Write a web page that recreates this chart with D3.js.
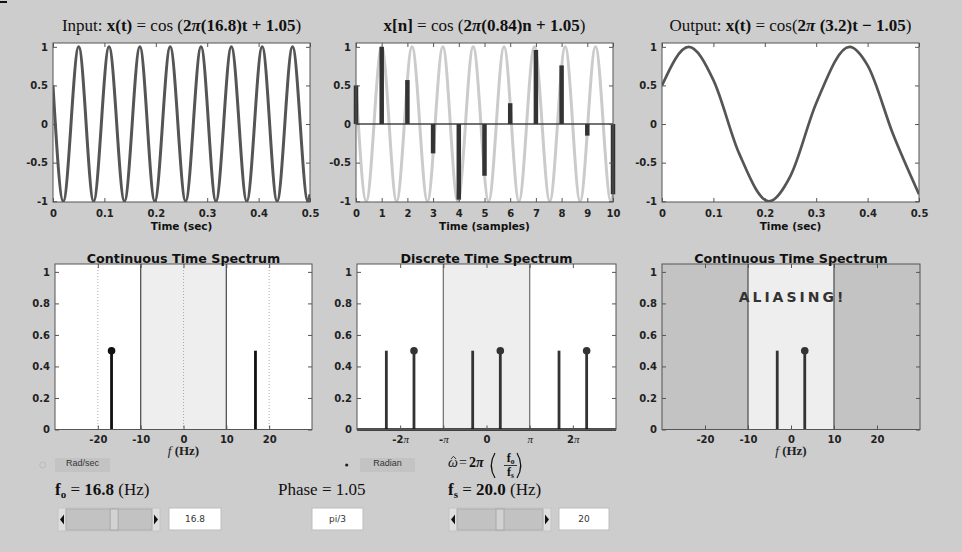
<!DOCTYPE html>
<html>
<head>
<meta charset="utf-8">
<script src="https://cdn.jsdelivr.net/npm/d3@7"></script>
<style>
  body { margin:0; background:#cdcdcd; overflow:hidden; }
  .tk text { font-family:"DejaVu Sans", sans-serif; font-weight:bold; font-size:10px; fill:#222; }
  .tk line { stroke:#555; }
</style>
</head>
<body>
<script>
// values shown in the controls
const fo = 16.8, fs = 20.0, phase = 1.05

// input signal: start, peaks/troughs, end
const inT = [0, 0.020, 0.050, 0.079, 0.109, 0.139, 0.169, 0.198, 0.228, 0.258, 0.288, 0.317, 0.347, 0.377, 0.407, 0.436, 0.466, 0.496, 0.5]
const inX = [0.50, -1, 1, -1, 1, -1, 1, -1, 1, -1, 1, -1, 1, -1, 1, -1, 1, -1, -0.91]

// samples x[n]
const sampN = [0, 1, 2, 3, 4, 5, 6, 7, 8, 9, 10]
const sampX = [0.50, 1.00, 0.57, -0.38, -0.98, -0.67, 0.27, 0.96, 0.76, -0.15, -0.91]

// output (aliased) signal
const outT = [0, 0.052, 0.1, 0.15, 0.208, 0.25, 0.3, 0.365, 0.4, 0.45, 0.5]
const outX = [0.50, 1, 0.57, -0.38, -1, -0.67, 0.27, 1, 0.76, -0.14, -0.91]

// spectra
const ctFreq = [-16.8, 16.8], ctAmp = [0.5, 0.5], ctDot = [true, false]
const dtFreq = [-2.32, -1.68, -0.32, 0.32, 1.68, 2.32]   // units of pi
const dtAmp = [0.5, 0.5, 0.5, 0.5, 0.5, 0.5], dtDot = [false, true, false, true, false, true]
const alFreq = [-3.2, 3.2], alAmp = [0.5, 0.5], alDot = [false, true]

// ticks
const timeTicks = [0, 0.1, 0.2, 0.3, 0.4, 0.5]
const sampTicks = [0, 1, 2, 3, 4, 5, 6, 7, 8, 9, 10]
const ampTicks = [-1, -0.5, 0, 0.5, 1]
const specTicks = [0, 0.2, 0.4, 0.6, 0.8, 1]
const hzTicks = [-20, -10, 0, 10, 20]
const piTicks = [-2, -1, 0, 1, 2]
const piLabels = ["-2", "-", "0", "", "2"]

// slider positions (fraction of track)
const sliderPos = [0.56, 0.50]

const svg = d3.select("body").append("svg").attr("width", 962).attr("height", 552)
svg.append("rect").attr("width", 962).attr("height", 552).attr("fill", "#cdcdcd")
svg.append("line").attr("x1", 0).attr("x2", 7).attr("y1", 2).attr("y2", 2).attr("stroke", "#111").attr("stroke-width", 2)

let clipN = 0
function panel(x0, x1, y0, y1, xd, yd) {
  const x = d3.scaleLinear().domain(xd).range([x0, x1])
  const y = d3.scaleLinear().domain(yd).range([y1, y0])
  const g = svg.append("g")
  g.append("rect").attr("x", x0).attr("y", y0).attr("width", x1 - x0).attr("height", y1 - y0).attr("fill", "#fff")
  const id = "clip" + (clipN++)
  svg.append("clipPath").attr("id", id).append("rect")
    .attr("x", x0).attr("y", y0).attr("width", x1 - x0).attr("height", y1 - y0)
  return { x, y, g, x0, x1, y0, y1, clip: `url(#${id})` }
}

function axes(p, xt, yt, xf, yf, xpad) {
  const tk = 4
  const top = p.g.append("g").attr("class", "tk")
  const bottom = top.append("g").attr("transform", `translate(0,${p.y1})`)
    .call(d3.axisBottom(p.x).tickValues(xt).tickSizeInner(-tk).tickSizeOuter(0).tickPadding(xpad).tickFormat(xf))
  top.append("g").attr("transform", `translate(0,${p.y0})`)
    .call(d3.axisTop(p.x).tickValues(xt).tickSizeInner(-tk).tickSizeOuter(0).tickFormat(""))
  top.append("g").attr("transform", `translate(${p.x0},0)`)
    .call(d3.axisLeft(p.y).tickValues(yt).tickSizeInner(-tk).tickSizeOuter(0).tickPadding(5).tickFormat(yf))
  top.append("g").attr("transform", `translate(${p.x1},0)`)
    .call(d3.axisRight(p.y).tickValues(yt).tickSizeInner(-tk).tickSizeOuter(0).tickFormat(""))
  top.selectAll(".domain").remove()
  p.g.append("rect").attr("x", p.x0).attr("y", p.y0).attr("width", p.x1 - p.x0).attr("height", p.y1 - p.y0)
    .attr("fill", "none").attr("stroke", "#555").attr("stroke-width", 1)
  return bottom
}

const numFmt = d => String(d)

function mathTitle(x, y, parts, size) {
  const t = svg.append("text").attr("x", x).attr("y", y).attr("text-anchor", "middle")
    .attr("font-family", "'Liberation Serif', serif").attr("font-size", size).attr("fill", "#111")
  parts.forEach(pt => t.append("tspan").text(pt[0])
    .attr("font-weight", pt[1] ? "bold" : "normal")
    .attr("font-style", pt[2] ? "italic" : "normal"))
  return t
}

function sansLabel(x, y, txt, size) {
  svg.append("text").attr("x", x).attr("y", y).attr("text-anchor", "middle")
    .attr("font-family", "'DejaVu Sans', sans-serif").attr("font-weight", "bold")
    .attr("font-size", size).attr("fill", "#111").text(txt)
}

const line = (p) => d3.line().x(d => p.x(d[0])).y(d => p.y(d[1])).curve(d3.curveMonotoneX)

// ---------- top row ----------
const ampDom = [-1.01, 1.05]
const p1 = panel(53, 310, 43, 202, [0, 0.5], ampDom)
p1.g.append("path").datum(inT.map((t, i) => [t, inX[i]])).attr("d", line(p1))
  .attr("fill", "none").attr("stroke", "#555").attr("stroke-width", 3).attr("clip-path", p1.clip)
axes(p1, timeTicks, ampTicks, numFmt, numFmt, 8)
mathTitle(181.5, 31, [["Input: "], ["x(t)", 1], [" = cos"], [" ("], ["2", 1], ["π", 1, 1], ["(16.8)t + 1.05", 1], [")"]], 17)
sansLabel(181.5, 229.5, "Time (sec)", 10.5)

const p2 = panel(356, 613, 43, 202, [0, 10], ampDom)
p2.g.append("path").datum(inT.map((t, i) => [t * fs, inX[i]])).attr("d", line(p2))
  .attr("fill", "none").attr("stroke", "#cbcbcb").attr("stroke-width", 3).attr("clip-path", p2.clip)
p2.g.append("line").attr("x1", p2.x0).attr("x2", p2.x1).attr("y1", p2.y(0)).attr("y2", p2.y(0))
  .attr("stroke", "#444").attr("stroke-width", 1.5)
p2.g.selectAll(null).data(sampN.map((n, i) => [n, sampX[i]])).enter().append("line")
  .attr("x1", d => p2.x(d[0])).attr("x2", d => p2.x(d[0]))
  .attr("y1", p2.y(0)).attr("y2", d => p2.y(d[1]))
  .attr("stroke", "#333").attr("stroke-width", 4.5)
axes(p2, sampTicks, ampTicks, numFmt, numFmt, 8)
mathTitle(484.5, 31, [["x[n]", 1], [" = cos ("], ["2", 1], ["π", 1, 1], ["(0.84)n + 1.05", 1], [")"]], 17)
sansLabel(484.5, 229.5, "Time (samples)", 10.5)

const p3 = panel(662, 919, 43, 202, [0, 0.5], ampDom)
p3.g.append("path").datum(outT.map((t, i) => [t, outX[i]])).attr("d", line(p3))
  .attr("fill", "none").attr("stroke", "#555").attr("stroke-width", 2.7).attr("clip-path", p3.clip)
axes(p3, timeTicks, ampTicks, numFmt, numFmt, 8)
mathTitle(790.5, 31, [["Output: "], ["x(t)", 1], [" = cos("], ["2", 1], ["π", 1, 1], [" (3.2)t − 1.05", 1], [")"]], 17)
sansLabel(790.5, 229.5, "Time (sec)", 10.5)

// ---------- bottom row ----------
const specDom = [0, 1.05]

function stems(p, fr, amp, dot, color, w) {
  const d = fr.map((f, i) => ({ f, a: amp[i], dot: dot[i] }))
  p.g.selectAll(null).data(d).enter().append("line")
    .attr("x1", d => p.x(d.f)).attr("x2", d => p.x(d.f))
    .attr("y1", p.y(0)).attr("y2", d => p.y(d.a))
    .attr("stroke", color).attr("stroke-width", w)
  p.g.selectAll(null).data(d.filter(d => d.dot)).enter().append("circle")
    .attr("cx", d => p.x(d.f)).attr("cy", d => p.y(d.a)).attr("r", 3.8).attr("fill", color)
}

function band(p, a, b, fill) {
  p.g.append("rect").attr("x", p.x(a)).attr("y", p.y0).attr("width", p.x(b) - p.x(a))
    .attr("height", p.y1 - p.y0).attr("fill", fill)
}

function vline(p, v, color, w, dash) {
  p.g.append("line").attr("x1", p.x(v)).attr("x2", p.x(v)).attr("y1", p.y0).attr("y2", p.y1)
    .attr("stroke", color).attr("stroke-width", w).attr("stroke-dasharray", dash || null)
}

function fLabel(x) {
  const t = svg.append("text").attr("x", x).attr("y", 455).attr("text-anchor", "middle")
    .attr("font-family", "'Liberation Serif', serif").attr("font-size", 13).attr("fill", "#222")
  t.append("tspan").text("f").attr("font-style", "italic")
  t.append("tspan").text("  (Hz)").attr("font-weight", "bold")
}

const p4 = panel(55, 312, 264, 429.5, [-30, 30], specDom)
band(p4, -fs / 2, fs / 2, "#eeeeee")
hzTicks.forEach(v => vline(p4, v, "#999", 0.8, "1,2"))
vline(p4, -fs / 2, "#555", 1.3); vline(p4, fs / 2, "#555", 1.3)
stems(p4, ctFreq, ctAmp, ctDot, "#111", 2.8)
axes(p4, hzTicks, specTicks, numFmt, numFmt, 6)
sansLabel(183.5, 262.5, "Continuous Time Spectrum", 12.7)
fLabel(183.5)

const p5 = panel(357, 616, 264, 429.5, [-3, 3], specDom)
band(p5, -1, 1, "#eeeeee")
vline(p5, -1, "#777", 1.3); vline(p5, 1, "#777", 1.3)
stems(p5, dtFreq, dtAmp, dtDot, "#333", 2.8)
p5.g.append("line").attr("x1", p5.x0).attr("x2", p5.x1).attr("y1", p5.y(0)).attr("y2", p5.y(0))
  .attr("stroke", "#111").attr("stroke-width", 2.5)
const ax5 = axes(p5, piTicks, specTicks, (d, i) => piLabels[i], numFmt, 6)
ax5.selectAll(".tick text").filter(d => d !== 0)
  .append("tspan").text("π").attr("font-family", "'Liberation Serif', serif").attr("font-style", "italic")
  .attr("font-weight", "normal").attr("font-size", 11)
sansLabel(486.5, 262.5, "Discrete Time Spectrum", 12.7)

const p6 = panel(662, 920, 264, 429.5, [-30, 30], specDom)
band(p6, -30, -fs / 2, "#c3c3c3"); band(p6, fs / 2, 30, "#c3c3c3")
band(p6, -fs / 2, fs / 2, "#eeeeee")
vline(p6, -fs / 2, "#555", 1.3); vline(p6, fs / 2, "#555", 1.3)
stems(p6, alFreq, alAmp, alDot, "#333", 2.8)
axes(p6, hzTicks, specTicks, numFmt, numFmt, 6)
sansLabel(791, 262.5, "Continuous Time Spectrum", 12.7)
fLabel(791)
svg.append("text").attr("x", 792.5).attr("y", 302).attr("text-anchor", "middle")
  .attr("font-family", "'DejaVu Sans', sans-serif").attr("font-weight", "bold").attr("font-size", 14)
  .attr("letter-spacing", 3).attr("fill", "#333").text("ALIASING!")

// ---------- controls ----------
function button(x, y, w, h, txt) {
  svg.append("rect").attr("x", x).attr("y", y).attr("width", w).attr("height", h).attr("fill", "#c3c3c3")
  svg.append("text").attr("x", x + w / 2).attr("y", y + h / 2 + 1).attr("text-anchor", "middle")
    .attr("font-family", "'Liberation Sans', sans-serif").attr("font-size", 9).attr("fill", "#333").text(txt)
}
svg.append("circle").attr("cx", 42.7).attr("cy", 465).attr("r", 3).attr("fill", "none").attr("stroke", "#bbb")
button(55, 458, 55, 14, "Rad/sec")
svg.append("circle").attr("cx", 346.7).attr("cy", 465).attr("r", 1.6).attr("fill", "#222")
button(360, 458, 55, 14, "Radian")

function textbox(x, w, txt) {
  svg.append("rect").attr("x", x).attr("y", 508).attr("width", w).attr("height", 22)
    .attr("fill", "#fff").attr("stroke", "#bdbdbd")
  svg.append("text").attr("x", x + w / 2).attr("y", 522).attr("text-anchor", "middle")
    .attr("font-family", "'DejaVu Sans', sans-serif").attr("font-size", 9).attr("fill", "#333").text(txt)
}

function slider(x, w, frac) {
  const y = 508, h = 23, a = 8
  svg.append("rect").attr("x", x).attr("y", y).attr("width", w).attr("height", h).attr("fill", "#dedede").attr("stroke", "#c4c4c4")
  const track = d3.scaleLinear().domain([0, 1]).range([x + a, x + w - a])
  svg.append("rect").attr("x", x + a).attr("y", y + 1).attr("width", w - 2 * a).attr("height", h - 2)
    .attr("fill", "#c2c2c2").attr("stroke", "#ababab")
  svg.append("path").attr("d", `M${x + 2},${y + h / 2}L${x + 6},${y + h / 2 - 5}L${x + 6},${y + h / 2 + 5}Z`).attr("fill", "#111")
  svg.append("path").attr("d", `M${x + w - 2},${y + h / 2}L${x + w - 6},${y + h / 2 - 5}L${x + w - 6},${y + h / 2 + 5}Z`).attr("fill", "#111")
  svg.append("rect").attr("x", track(frac) - 4).attr("y", y + 1).attr("width", 8).attr("height", h - 2)
    .attr("fill", "#d2d2d2").attr("stroke", "#a8a8a8")
}

slider(58, 102, sliderPos[0]); textbox(169, 52, "16.8")
textbox(312, 51, "pi/3")
slider(449, 102, sliderPos[1]); textbox(559, 50, "20")

function serifLine(x, parts) {
  const t = svg.append("text").attr("x", x).attr("y", 495)
    .attr("font-family", "'Liberation Serif', serif").attr("font-size", 17).attr("fill", "#111")
  parts.forEach(pt => {
    const s = t.append("tspan").text(pt[0]).attr("font-weight", pt[1] ? "bold" : "normal")
    if (pt[2]) s.attr("font-size", 11).attr("dy", 3)
    if (pt[3]) s.attr("dy", -3)
  })
}
serifLine(55, [["f", 1], ["o", 1, 1], [" = ", 0, 0, 1], [fo.toFixed(1), 1], [" (Hz)"]])
serifLine(278, [["Phase = " + phase.toFixed(2)]])
serifLine(448, [["f", 1], ["s", 1, 1], [" = ", 0, 0, 1], [fs.toFixed(1), 1], [" (Hz)"]])

// omega-hat = 2 pi (fo / fs)
const fm = svg.append("g").attr("font-family", "'Liberation Serif', serif").attr("fill", "#111")
fm.append("text").attr("x", 448).attr("y", 467).attr("font-size", 14).attr("font-style", "italic").text("ω")
fm.append("path").attr("d", "M451,459L453.5,456.3L456,459").attr("fill", "none").attr("stroke", "#111").attr("stroke-width", 0.8)
fm.append("text").attr("x", 459).attr("y", 467).attr("font-size", 14).text("=")
fm.append("text").attr("x", 469).attr("y", 467).attr("font-size", 14).attr("font-weight", "bold")
  .call(t => { t.append("tspan").text("2"); t.append("tspan").text("π").attr("font-style", "italic") })
fm.append("path").attr("d", "M495,453Q487.5,465.5 495,478").attr("fill", "none").attr("stroke", "#111").attr("stroke-width", 1.2)
fm.append("path").attr("d", "M517,453Q524.5,465.5 517,478").attr("fill", "none").attr("stroke", "#111").attr("stroke-width", 1.2)
fm.append("line").attr("x1", 504).attr("x2", 517).attr("y1", 465.5).attr("y2", 465.5).attr("stroke", "#111").attr("stroke-width", 0.8)
fm.append("text").attr("x", 510.5).attr("y", 462).attr("text-anchor", "middle").attr("font-size", 12).attr("font-weight", "bold")
  .call(t => { t.append("tspan").text("f"); t.append("tspan").text("o").attr("font-size", 7.5).attr("dy", 2) })
fm.append("text").attr("x", 510.5).attr("y", 476).attr("text-anchor", "middle").attr("font-size", 12).attr("font-weight", "bold")
  .call(t => { t.append("tspan").text("f"); t.append("tspan").text("s").attr("font-size", 7.5).attr("dy", 2) })
</script>
</body>
</html>
